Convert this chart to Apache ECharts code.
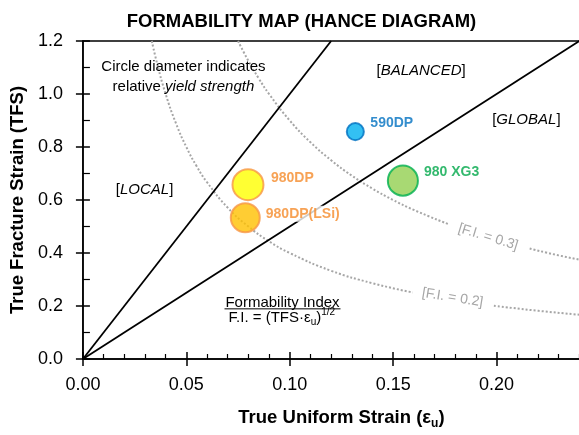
<!DOCTYPE html>
<html><head><meta charset="utf-8">
<script src="https://cdn.jsdelivr.net/npm/echarts@6/dist/echarts.min.js"></script>
<style>html,body{margin:0;padding:0;background:#fff;overflow:hidden;width:579px;height:435px}#c{width:600px;height:435px}</style>
</head><body><div id="c"></div>
<script>
// ---------- data ----------
const steelNames = ['590DP', '980 XG3', '980DP', '980DP(LSi)'];
const uniformStrain = [0.1317, 0.1547, 0.0798, 0.0785];
const fractureStrain = [0.858, 0.673, 0.658, 0.533];
const relYieldStrength = [0.55, 0.97, 1.0, 0.935];

const xTickValues = [0.00, 0.05, 0.10, 0.15, 0.20];
const yTickValues = [0.0, 0.2, 0.4, 0.6, 0.8, 1.0, 1.2];

// mode boundaries (TFS = 10*eu and TFS = 5*eu)
const localBalancedBoundary = [[0, 0], [0.12, 1.2]];
const balancedGlobalBoundary = [[0, 0], [0.24, 1.2]];

// iso formability-index curves, split where labels sit
const fi03Left = [[0.075,1.2],[0.08,1.125],[0.085,1.059],[0.09,1.0],[0.10,0.9],[0.11,0.818],[0.12,0.75],[0.13,0.692],[0.14,0.643],[0.15,0.6],[0.16,0.5625],[0.177,0.508]];
const fi03Right = [[0.216,0.417],[0.23,0.391],[0.25,0.36]];
const fi02Left = [[0.0333,1.2],[0.036,1.111],[0.04,1.0],[0.045,0.889],[0.05,0.8],[0.055,0.727],[0.06,0.667],[0.07,0.571],[0.08,0.5],[0.09,0.444],[0.10,0.4],[0.12,0.333],[0.14,0.286],[0.1595,0.251]];
const fi02Right = [[0.1987,0.201],[0.22,0.182],[0.25,0.16]];

// ---------- styles ----------
const FONT = 'Liberation Sans';
const fillColors = ['#00B0F0', '#92D050', '#FFFF00', '#FFC000'];
const borderColors = ['#0070C0', '#00B050', '#F79646', '#F79646'];
const labelColors = ['#0070C0', '#00A84A', '#F58B2A', '#F58B2A'];
const labelGaps = [4.5, 4, 5.5, 4];
const labelDy = [-8, -9, -6, -4];
const BASE_SIZE = 31;

const chart = echarts.init(document.getElementById('c'), null, {renderer: 'canvas'});

const scatterData = steelNames.map((n, i) => ({
  name: n,
  value: [uniformStrain[i], fractureStrain[i]],
  symbolSize: relYieldStrength[i] * BASE_SIZE,
  itemStyle: {color: fillColors[i], borderColor: borderColors[i], borderWidth: 2},
  label: {
    show: true, position: 'right', distance: labelGaps[i], offset: [0, labelDy[i]],
    formatter: '{b}', color: labelColors[i], fontSize: 14, fontWeight: 'bold', fontFamily: FONT,
    backgroundColor: '#fff', padding: [1, 1]
  }
}));

const axisBase = {
  type: 'value', min: 0, max: 0.25, interval: 0.05,
  splitLine: {show: false}, minorSplitLine: {show: false}
};
const blk = {color: '#000', width: 1.5};

const lineSeries = (data, style) => ({
  type: 'line', data: data, symbol: 'none', silent: true, smooth: style.smooth || false,
  xAxisIndex: 0, yAxisIndex: 0, lineStyle: style.lineStyle, z: style.z || 2, animation: false
});

const option = {
  animation: false,
  backgroundColor: '#fff',
  grid: {left: 80, right: 0, top: 41, bottom: 70, show: true, borderColor: '#000', borderWidth: 1.5, backgroundColor: 'transparent'},
  xAxis: [
    Object.assign({}, axisBase, {
      position: 'bottom',
      axisLine: {show: true, onZero: false, lineStyle: blk},
      axisTick: {show: true, inside: false, length: 7, lineStyle: blk},
      axisLabel: {show: true, fontSize: 18, fontFamily: FONT, color: '#000', margin: 17,
        showMaxLabel: false,
        formatter: v => xTickValues.some(t => Math.abs(t - v) < 1e-9) ? v.toFixed(2) : ''},
      name: 'True Uniform Strain (ε{sub|u})',
      nameLocation: 'middle', nameGap: 47,
      nameTextStyle: {fontSize: 18.5, fontWeight: 'bold', fontFamily: FONT, color: '#000', lineHeight: 24,
        rich: {sub: {fontSize: 12, fontWeight: 'bold', fontFamily: FONT, color: '#000', lineHeight: 12, verticalAlign: 'bottom'}}}
    }),
    Object.assign({}, axisBase, {
      position: 'bottom',
      axisLine: {show: false, onZero: false},
      axisTick: {show: true, inside: true, length: 7, lineStyle: blk},
      minorTick: {show: true, splitNumber: 5, length: 5, lineStyle: {color: '#000', width: 1.2}},
      axisLabel: {show: false}
    })
  ],
  yAxis: [
    {
      type: 'value', min: 0, max: 1.2, interval: 0.2, position: 'left',
      splitLine: {show: false},
      axisLine: {show: true, onZero: false, lineStyle: blk},
      axisTick: {show: true, inside: false, length: 7, lineStyle: blk},
      axisLabel: {fontSize: 18, fontFamily: FONT, color: '#000', margin: 20,
        formatter: v => yTickValues.some(t => Math.abs(t - v) < 1e-9) ? v.toFixed(1) : ''},
      name: 'True Fracture Strain (TFS)', nameLocation: 'middle', nameGap: 52,
      nameTextStyle: {fontSize: 18.5, fontWeight: 'bold', fontFamily: FONT, color: '#000'}
    },
    {
      type: 'value', min: 0, max: 1.2, interval: 0.2, position: 'left',
      splitLine: {show: false}, minorSplitLine: {show: false},
      axisLine: {show: false, onZero: false},
      axisTick: {show: true, inside: true, length: 7, lineStyle: blk},
      minorTick: {show: true, splitNumber: 2, length: 7, lineStyle: {color: '#000', width: 1.2}},
      axisLabel: {show: false}
    }
  ],
  series: [
    lineSeries(fi03Left, {smooth: true, lineStyle: {color: '#A6A6A6', width: 2, type: 'dotted'}}),
    lineSeries(fi03Right, {smooth: true, lineStyle: {color: '#A6A6A6', width: 2, type: 'dotted'}}),
    lineSeries(fi02Left, {smooth: true, lineStyle: {color: '#A6A6A6', width: 2, type: 'dotted'}}),
    lineSeries(fi02Right, {smooth: true, lineStyle: {color: '#A6A6A6', width: 2, type: 'dotted'}}),
    lineSeries(localBalancedBoundary, {lineStyle: {color: '#000', width: 1.8}, z: 3}),
    lineSeries(balancedGlobalBoundary, {lineStyle: {color: '#000', width: 1.8}, z: 3}),
    {type: 'scatter', data: scatterData, xAxisIndex: 0, yAxisIndex: 0, z: 5, animation: false}
  ]
};
chart.setOption(option);

// ---------- annotations (positioned in data units) ----------
const P = (x, y) => chart.convertToPixel({xAxisIndex: 0, yAxisIndex: 0}, [x, y]);
const txt = (pos, text, extra) => {
  const p = P(pos[0], pos[1]);
  return Object.assign({
    type: 'text', x: p[0], y: p[1], z: 10,
    style: Object.assign({text: text, fill: '#000', fontSize: 15, fontFamily: FONT,
      align: 'center', verticalAlign: 'middle'}, extra && extra.style || {})
  }, extra && extra.rotation !== undefined ? {rotation: extra.rotation} : {});
};
const ital = {fontStyle: 'italic', fontSize: 15, fontFamily: FONT, fill: '#000', lineHeight: 20};
const fiCenter = P(0.0965, 0.21);

const graphics = [
  {type: 'text', x: 301.5, y: 22, style: {text: 'FORMABILITY MAP (HANCE DIAGRAM)', fill: '#000', fontSize: 18.5,
    fontWeight: 'bold', fontFamily: FONT, align: 'center', verticalAlign: 'middle'}},
  txt([0.0486, 1.101], 'Circle diameter indicates'),
  txt([0.0486, 1.027], 'relative {i|yield strength}', {style: {lineHeight: 20, rich: {i: ital}}}),
  txt([0.1635, 1.086], '[{i|BALANCED}]', {style: {lineHeight: 20, rich: {i: ital}}}),
  txt([0.2144, 0.901], '[{i|GLOBAL}]', {style: {lineHeight: 20, rich: {i: ital}}}),
  txt([0.0298, 0.638], '[{i|LOCAL}]', {style: {lineHeight: 20, rich: {i: ital}}}),
  txt([0.0965, 0.21], 'Formability Index'),
  {type: 'line', z: 10, shape: {x1: fiCenter[0] - 58, y1: fiCenter[1] + 5.5, x2: fiCenter[0] + 58, y2: fiCenter[1] + 5.5},
    style: {stroke: '#000', lineWidth: 1}},
  txt([0.0962, 0.157], 'F.I. = (TFS·ε{sub|u}){sup|1/2}', {style: {lineHeight: 20, rich: {
    sub: {fontSize: 10, fontFamily: FONT, fill: '#000', lineHeight: 10, verticalAlign: 'bottom'},
    sup: {fontSize: 10, fontFamily: FONT, fill: '#000', lineHeight: 10, verticalAlign: 'top'}}}}),
  txt([0.1959, 0.46], '[F.I. = 0.3]', {rotation: -0.295, style: {fill: '#A6A6A6', fontSize: 14}}),
  txt([0.1787, 0.2315], '[F.I. = 0.2]', {rotation: -0.16, style: {fill: '#A6A6A6', fontSize: 14}})
];
chart.setOption({graphic: {elements: graphics}});
</script>
</body></html>
